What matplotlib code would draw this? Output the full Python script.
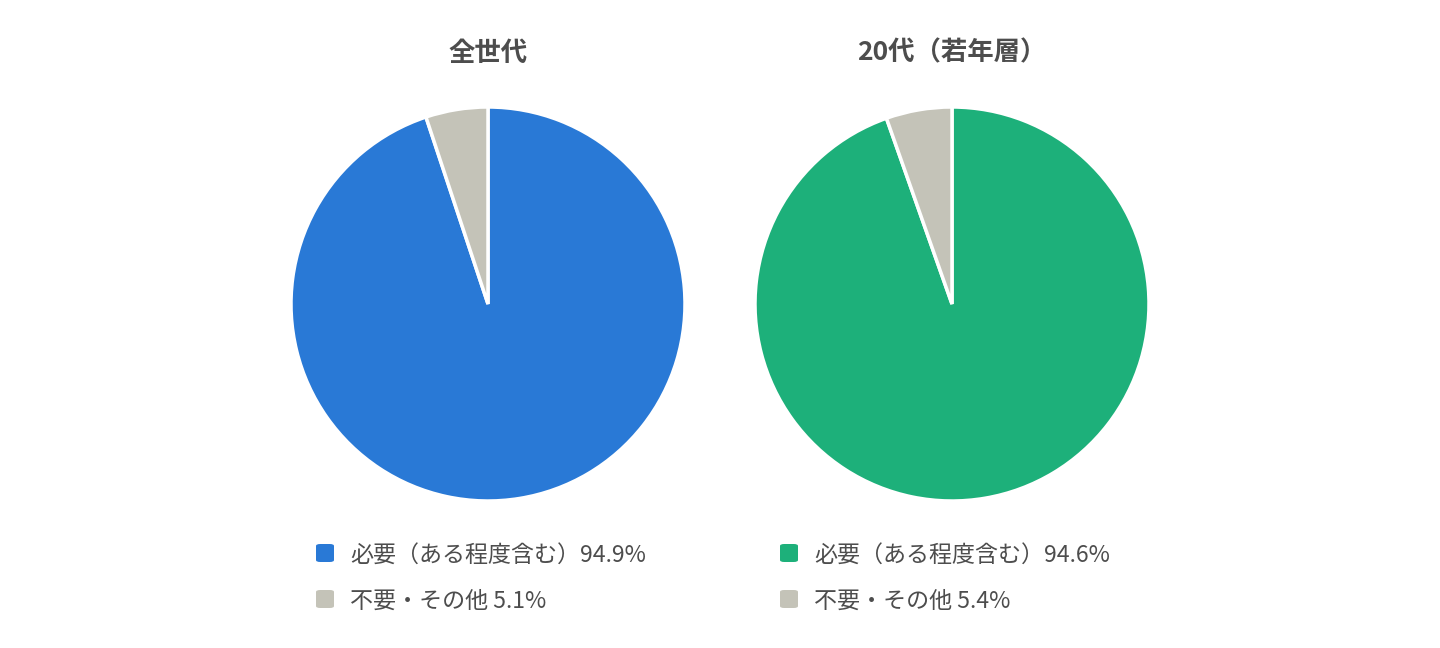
import matplotlib
matplotlib.use("Agg")
import matplotlib.pyplot as plt
from matplotlib.patches import FancyBboxPatch

plt.rcParams['font.family'] = ['Noto Sans CJK JP', 'DejaVu Sans']

titles = ["全世代", "20代（若年層）"]
labels = ["必要（ある程度含む）", "不要・その他"]
values_all = [94.9, 5.1]
values_young = [94.6, 5.4]
series = [values_all, values_young]
main_colors = ["#2979D6", "#1DB07A"]
other_color = "#C4C3B8"
text_color = "#4D4D4D"

W, H = 1440, 648
fig = plt.figure(figsize=(W / 100, H / 100), dpi=100)
fig.patch.set_facecolor("white")

centers_x = [488, 952]
cy = 304
r = 197

for i, (vals, title) in enumerate(zip(series, titles)):
    cx = centers_x[i]
    ax = fig.add_axes([(cx - r) / W, (H - cy - r) / H, 2 * r / W, 2 * r / H])
    ax.pie(vals, colors=[main_colors[i], other_color], startangle=90,
           counterclock=False, radius=1.0,
           wedgeprops=dict(edgecolor="white", linewidth=2.5))
    ax.set_xlim(-1.0, 1.0)
    ax.set_ylim(-1.0, 1.0)
    ax.set_aspect("equal")
    ax.axis("off")
    fig.text(cx / W, 1 - 53 / H, title, ha="center", va="center",
             fontsize=19, fontweight="bold", color=text_color)
    # legend
    lx = cx - 172
    for j, (lab, v) in enumerate(zip(labels, vals)):
        ly = 553 + j * 46
        col = main_colors[i] if j == 0 else other_color
        box = FancyBboxPatch(((lx) / W, 1 - (ly + 9) / H), 18 / W, 18 / H,
                             boxstyle="round,pad=0,rounding_size=0.003",
                             transform=fig.transFigure, facecolor=col,
                             edgecolor="none")
        fig.patches.append(box)
        fig.text((lx + 34) / W, 1 - (ly + 2) / H,
                 f"{lab}{v}%" if j == 0 else f"{lab} {v}%",
                 ha="left", va="center", fontsize=16.6, color=text_color)

fig.savefig("out.png", dpi=100, facecolor="white")
